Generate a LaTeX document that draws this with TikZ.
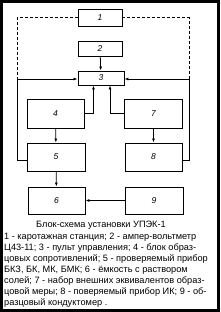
\documentclass[tikz,border=0pt]{standalone}
\usepackage{fontspec}
\setmainfont{Liberation Sans}
\usetikzlibrary{arrows.meta}
\begin{document}
\begin{tikzpicture}[x=1pt,y=-1pt,
  blk/.style={draw,line width=0.9pt,minimum width=#1,inner sep=0pt,font=\fontsize{8.5}{9}\selectfont\itshape},
  conn/.style={line width=0.8pt},
  arr/.style={conn,-{Latex[length=4pt,width=3pt]}},
  dsh/.style={line width=0.8pt,dash pattern=on 3pt off 2pt},
  captxt/.style={anchor=west,inner sep=0pt,font=\fontsize{9.2}{10}\selectfont}]
\useasboundingbox (0,0) rectangle (220,312);
\draw[line width=3pt] (1.5,1.5) rectangle (218.5,310.5);
\node[blk=44pt,minimum height=17pt] (b1) at (100,17.5) {1};
\node[blk=44pt,minimum height=15pt] (b2) at (100,48.5) {2};
\node[blk=46pt,minimum height=14pt] (b3) at (101,78) {3};
\node[blk=57pt,minimum height=29pt] (b4) at (55.5,114) {4};
\node[blk=58pt,minimum height=29pt] (b7) at (153.5,114) {7};
\node[blk=58pt,minimum height=28pt] (b5) at (56,157) {5};
\node[blk=57pt,minimum height=28pt] (b8) at (153.5,157) {8};
\node[blk=57pt,minimum height=27pt] (b6) at (56.5,200.5) {6};
\node[blk=58pt,minimum height=27pt] (b9) at (154,200.5) {9};
\coordinate (lc) at (17,79);
\coordinate (rc) at (189,79);
\draw[dsh] (b1.west) -| (lc);
\draw[dsh] (b1.east) -| (rc);
\draw[arr] (b2) -- (b3);
\draw[arr] (b5.west |- 0,160) -| (lc) -- (b3.west |- lc);
\draw[arr] (b8.east |- 0,160) -| (rc) -- (b3.east |- rc);
\draw[arr] (b4.east |- 0,113) -| (93.5,0 |- b3.south);
\draw[arr] (b7.west |- 0,113) -| (110,0 |- b3.south);
\draw[arr] (b4) -- (b5);
\draw[arr] (b7) -- (b8);
\draw[arr] (b5) -- (b6);
\draw[arr] (b9) -- (b6);
\node[inner sep=0pt,font=\fontsize{9.2}{10}\selectfont] (t0) at (101,225) {Блок-схема установки УПЭК-1};
\node[captxt] (t1) at (4,237) {1 - каротажная станция; 2 - ампер-вольтметр};
\node[captxt] (t2) at (4,248) {Ц43-11; 3 - пульт управления; 4 - блок образ-};
\node[captxt] (t3) at (4,259) {цовых сопротивлений; 5 - проверяемый прибор};
\node[captxt] (t4) at (4,270) {БКЗ, БК, МК, БМК; 6 - ёмкость с раствором};
\node[captxt] (t5) at (4,281) {солей; 7 - набор внешних эквивалентов образ-};
\node[captxt] (t6) at (4,292) {цовой меры; 8 - поверяемый прибор ИК; 9 - об-};
\node[captxt] (t7) at (4,303) {разцовый кондуктомер .};
\end{tikzpicture}
\end{document}
